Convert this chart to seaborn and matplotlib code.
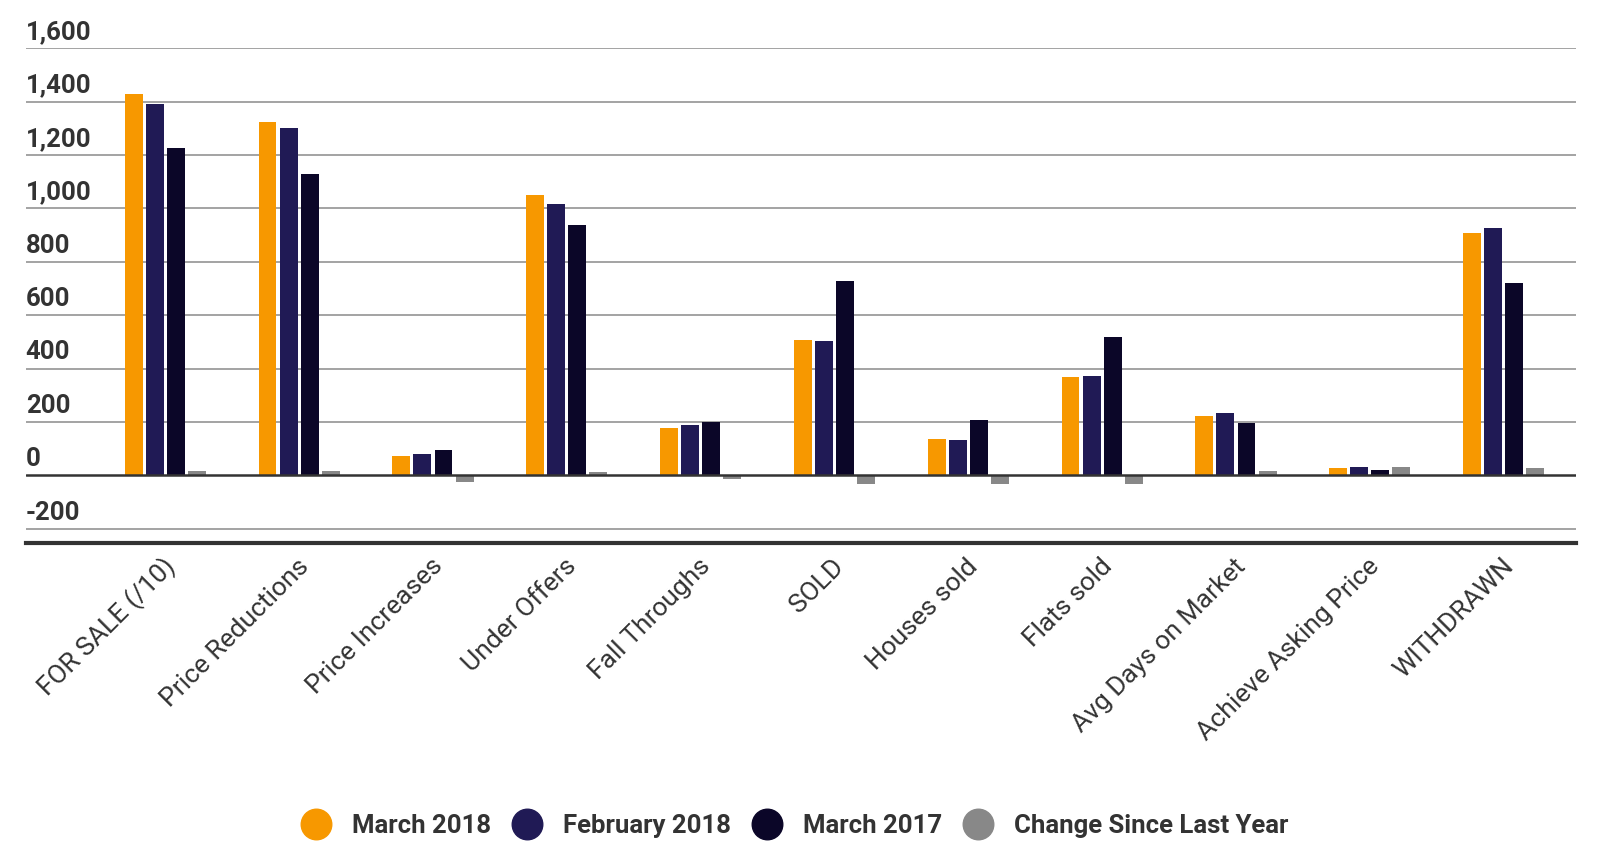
import numpy as np
import pandas as pd
import matplotlib
matplotlib.use("Agg")
import matplotlib.pyplot as plt
from matplotlib.lines import Line2D
import matplotlib.transforms as mtransforms
import seaborn as sns

categories = ["FOR SALE (/10)", "Price Reductions", "Price Increases", "Under Offers",
              "Fall Throughs", "SOLD", "Houses sold", "Flats sold",
              "Avg Days on Market", "Achieve Asking Price", "WITHDRAWN"]
march_2018 = [1430, 1323, 73, 1050, 177, 508, 138, 369, 223, 28, 908]
february_2018 = [1392, 1300, 81, 1015, 188, 504, 131, 373, 235, 30, 927]
march_2017 = [1227, 1127, 96, 938, 200, 727, 208, 519, 196, 21, 719]
change_since_last_year = [17, 18, -25, 13, -12, -32, -33, -33, 17, 33, 26]
series_names = ["March 2018", "February 2018", "March 2017", "Change Since Last Year"]
colors = ["#F79800", "#201A55", "#0B0628", "#888888"]
yticks = [-200, 0, 200, 400, 600, 800, 1000, 1200, 1400, 1600]
ytick_labels = ["-200", "0", "200", "400", "600", "800", "1,000", "1,200", "1,400", "1,600"]

df = pd.DataFrame({
    "category": categories * 4,
    "series": sum([[n] * len(categories) for n in series_names], []),
    "value": march_2018 + february_2018 + march_2017 + change_since_last_year,
})

sns.set_theme(style="white")
plt.rcParams["font.family"] = ["Roboto", "DejaVu Sans"]
text_color = "#333333"

fig = plt.figure(figsize=(16.12, 8.60), dpi=100)
ax = fig.add_axes([0.016, 0.3684, 0.9616, 0.5756])

sns.barplot(data=df, x="category", y="value", hue="series", order=categories,
            hue_order=series_names, palette=colors, saturation=1, width=0.63, gap=0.15,
            linewidth=0, ax=ax, legend=False, zorder=3)

ax.set_xlim(-1.042, 10.54)
ax.set_ylim(-254, 1600)

# gridlines
for v in yticks:
    if v == 0:
        ax.axhline(v, color="#333333", lw=1.8, zorder=4)
    else:
        ax.axhline(v, color="#9c9c9c", lw=1.3, zorder=1)

ax.set_yticks([])
trans = mtransforms.blended_transform_factory(ax.transAxes, ax.transData)
offset = mtransforms.ScaledTranslation(0, 3 / 72, fig.dpi_scale_trans)
for v, lab in zip(yticks, ytick_labels):
    ax.text(0.0, v, lab, transform=trans + offset, ha="left", va="bottom",
            fontsize=18.5, fontweight="bold", color=text_color, zorder=5)

for s in ["top", "right", "left"]:
    ax.spines[s].set_visible(False)
ax.spines["bottom"].set_color("#333333")
ax.spines["bottom"].set_linewidth(3)

ax.set_xticks(np.arange(-0.5, 11, 1.0), labels=[""] * 12)
ax.set_xticks(np.arange(len(categories)), labels=categories, minor=True)
ax.tick_params(axis="x", which="major", length=12, width=1.6, color="#333333", direction="out")
ax.tick_params(axis="x", which="minor", length=0, pad=14)
xshift = mtransforms.ScaledTranslation(6 / 100, 0, fig.dpi_scale_trans)
for lab in ax.get_xticklabels(minor=True):
    lab.set_rotation(45)
    lab.set_ha("right")
    lab.set_va("center")
    lab.set_rotation_mode("anchor")
    lab.set_fontsize(19)
    lab.set_color(text_color)
    lab.set_transform(lab.get_transform() + xshift)
ax.set_xlabel("")
ax.set_ylabel("")

handles = [Line2D([0], [0], marker="o", linestyle="none", markersize=22,
                  markerfacecolor=c, markeredgecolor=c) for c in colors]
leg = fig.legend(handles, series_names, loc="center", bbox_to_anchor=(0.4895, 0.04),
                 ncol=4, frameon=False, handletextpad=0.4, columnspacing=0.4,
                 prop={"size": 18.5, "weight": "bold"})
for t in leg.get_texts():
    t.set_color(text_color)

fig.savefig("out.png", dpi=100, facecolor="white")
